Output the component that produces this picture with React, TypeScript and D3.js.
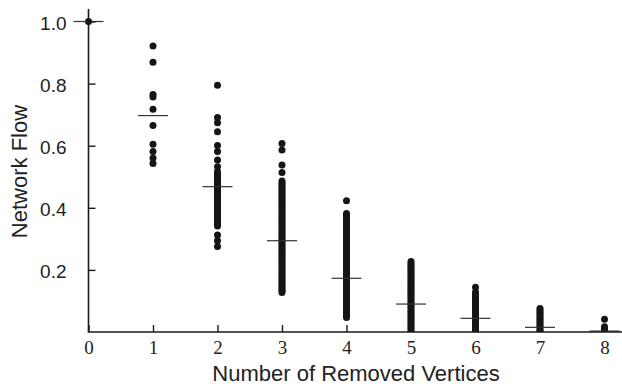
import { useRef, useEffect } from "react";
import * as d3 from "d3";

const W = 622;
const H = 389;
const X0 = 88.5;
const Y0 = 332;

// number of removed vertices
const removed = [0, 1, 2, 3, 4, 5, 6, 7, 8];

// network flow observed for each number of removed vertices
const flow0 = [1.0];
const flow1 = [0.921, 0.869, 0.765, 0.757, 0.717, 0.665, 0.605, 0.581, 0.56, 0.543];
const flow2 = [
  0.795, 0.691, 0.674, 0.645, 0.601, 0.581, 0.554, 0.532, 0.516, 0.51, 0.503,
  0.497, 0.491, 0.485, 0.479, 0.473, 0.467, 0.461, 0.455, 0.449, 0.443, 0.437,
  0.431, 0.425, 0.419, 0.413, 0.407, 0.401, 0.395, 0.389, 0.383, 0.377, 0.371,
  0.365, 0.359, 0.353, 0.347, 0.341, 0.312, 0.294, 0.275,
];
const flow3 = [
  0.607, 0.586, 0.538, 0.514, 0.486, 0.48, 0.474, 0.468, 0.462, 0.456, 0.45,
  0.444, 0.438, 0.432, 0.426, 0.42, 0.414, 0.408, 0.402, 0.396, 0.39, 0.384,
  0.378, 0.372, 0.366, 0.36, 0.354, 0.348, 0.342, 0.336, 0.33, 0.324, 0.318,
  0.312, 0.306, 0.3, 0.294, 0.288, 0.282, 0.276, 0.27, 0.264, 0.258, 0.252,
  0.246, 0.24, 0.234, 0.228, 0.222, 0.216, 0.21, 0.204, 0.198, 0.192, 0.186,
  0.18, 0.174, 0.168, 0.162, 0.156, 0.15, 0.144, 0.138, 0.133, 0.127,
];
const flow4 = [
  0.423, 0.382, 0.376, 0.37, 0.364, 0.358, 0.352, 0.346, 0.34, 0.334, 0.328,
  0.322, 0.316, 0.31, 0.304, 0.298, 0.292, 0.286, 0.28, 0.274, 0.268, 0.262,
  0.256, 0.25, 0.244, 0.238, 0.232, 0.226, 0.22, 0.214, 0.208, 0.202, 0.196,
  0.19, 0.184, 0.178, 0.172, 0.166, 0.16, 0.154, 0.148, 0.142, 0.136, 0.13,
  0.124, 0.118, 0.112, 0.106, 0.1, 0.094, 0.088, 0.082, 0.076, 0.07, 0.064,
  0.058, 0.052, 0.047,
];
const flow5 = [
  0.227, 0.221, 0.215, 0.209, 0.203, 0.197, 0.191, 0.185, 0.179, 0.173, 0.167,
  0.161, 0.155, 0.149, 0.143, 0.137, 0.131, 0.125, 0.119, 0.113, 0.107, 0.101,
  0.095, 0.089, 0.083, 0.077, 0.071, 0.065, 0.059, 0.053, 0.047, 0.041, 0.035,
  0.029, 0.023, 0.017, 0.011, 0.005, 0.0,
];
const flow6 = [
  0.144, 0.128, 0.121, 0.115, 0.109, 0.103, 0.097, 0.091, 0.085, 0.079, 0.073,
  0.067, 0.061, 0.055, 0.049, 0.043, 0.037, 0.031, 0.025, 0.019, 0.013, 0.007,
  0.0,
];
const flow7 = [
  0.076, 0.07, 0.064, 0.058, 0.052, 0.046, 0.04, 0.034, 0.028, 0.022, 0.016,
  0.01, 0.004, 0.0,
];
const flow8 = [0.041, 0.017, 0.011, 0.005, 0.0];

const flows = [flow0, flow1, flow2, flow3, flow4, flow5, flow6, flow7, flow8];

// mean flow per group
const means = [1.0, 0.697, 0.468, 0.294, 0.173, 0.09, 0.044, 0.015, 0.003];

const yTicks = [0.2, 0.4, 0.6, 0.8, 1.0];

export default function App() {
  const svgRef = useRef<SVGSVGElement>(null);

  useEffect(() => {
    const svg = d3.select(svgRef.current);
    if (!svg.node()) return;
    svg.selectAll("*").remove();

    const x = d3.scaleLinear().domain([0, 8]).range([X0, 604.5]);
    const y = d3.scaleLinear().domain([0, 1]).range([Y0, 21.5]);

    svg
      .append("defs")
      .append("clipPath")
      .attr("id", "plot-clip")
      .append("rect")
      .attr("x", 0)
      .attr("y", 0)
      .attr("width", W)
      .attr("height", Y0);

    // dots
    const pts = flows.flatMap((vals, i) =>
      vals.map((v) => ({ k: removed[i], v })),
    );
    svg
      .append("g")
      .attr("clip-path", "url(#plot-clip)")
      .selectAll("circle")
      .data(pts)
      .enter()
      .append("circle")
      .attr("cx", (d) => x(d.k))
      .attr("cy", (d) => y(d.v))
      .attr("r", 3.5)
      .attr("fill", "#151515");

    // mean bars
    svg
      .append("g")
      .selectAll("line")
      .data(means)
      .enter()
      .append("line")
      .attr("x1", (_d, i) => x(removed[i]) - 15)
      .attr("x2", (_d, i) => x(removed[i]) + 15)
      .attr("y1", (d) => y(d))
      .attr("y2", (d) => y(d))
      .attr("stroke", "#333")
      .attr("stroke-width", 1.2);

    // y axis
    const gy = svg
      .append("g")
      .attr("transform", `translate(${X0},0)`)
      .call(
        d3
          .axisLeft(y)
          .tickValues(yTicks)
          .tickSizeInner(-7)
          .tickSizeOuter(0)
          .tickPadding(22)
          .tickFormat(d3.format(".1f")),
      );
    gy.select(".domain").remove();
    gy.selectAll("line").attr("stroke", "#1a1a1a").attr("stroke-width", 1.4);
    gy.selectAll("text")
      .attr("dy", "0.4em")
      .attr("fill", "#222")
      .style("font-family", "'Liberation Sans', Arial, sans-serif")
      .style("font-size", "19px");

    // x axis
    const gx = svg
      .append("g")
      .attr("transform", `translate(0,${Y0})`)
      .call(
        d3
          .axisBottom(x)
          .tickValues(removed)
          .tickSizeInner(-7)
          .tickSizeOuter(0)
          .tickPadding(8.5)
          .tickFormat(d3.format("d")),
      );
    gx.select(".domain").remove();
    gx.selectAll("line").attr("stroke", "#1a1a1a").attr("stroke-width", 1.4);
    gx.selectAll("text")
      .attr("fill", "#222")
      .style("font-family", "'Liberation Serif', 'Times New Roman', serif")
      .style("font-size", "19px");

    // axis lines
    svg
      .append("line")
      .attr("x1", X0)
      .attr("x2", X0)
      .attr("y1", 9)
      .attr("y2", Y0)
      .attr("stroke", "#1a1a1a")
      .attr("stroke-width", 1.6);
    svg
      .append("line")
      .attr("x1", X0 - 0.8)
      .attr("x2", W)
      .attr("y1", Y0)
      .attr("y2", Y0)
      .attr("stroke", "#1a1a1a")
      .attr("stroke-width", 1.6);

    // titles
    svg
      .append("text")
      .attr("x", 356)
      .attr("y", 381)
      .attr("text-anchor", "middle")
      .attr("fill", "#222")
      .style("font-family", "'Liberation Sans', Arial, sans-serif")
      .style("font-size", "22px")
      .text("Number of Removed Vertices");

    svg
      .append("text")
      .attr("transform", "translate(27,171.5) rotate(-90)")
      .attr("text-anchor", "middle")
      .attr("fill", "#222")
      .style("font-family", "'Liberation Sans', Arial, sans-serif")
      .style("font-size", "22px")
      .text("Network Flow");
  }, []);

  return (
    <svg
      ref={svgRef}
      width={W}
      height={H}
      style={{ position: "absolute", left: 0, top: 0, background: "#fff" }}
    />
  );
}
